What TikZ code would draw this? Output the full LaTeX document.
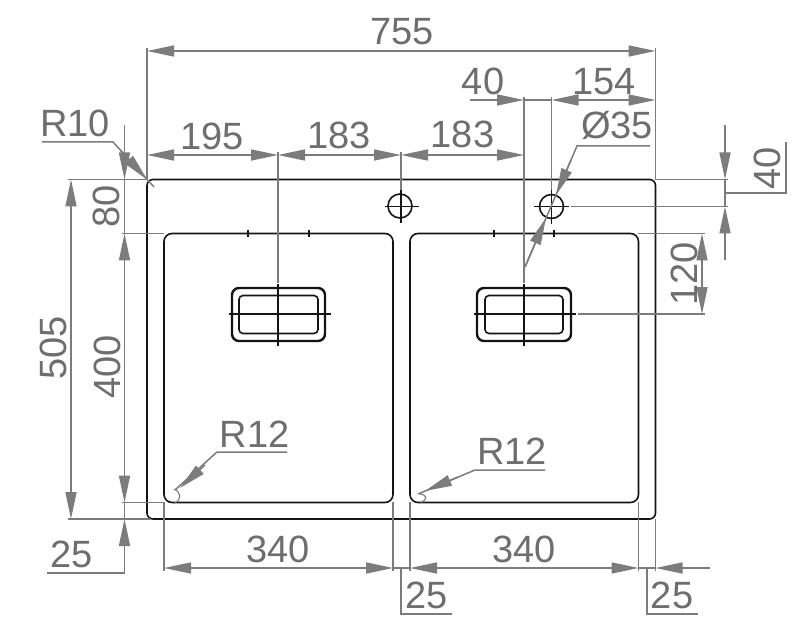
\documentclass[tikz,border=0pt]{standalone}
\usepackage{fontspec}
\setmainfont{Liberation Sans}
\usetikzlibrary{arrows.meta}
\definecolor{dimgray}{HTML}{7C7C7C}
\definecolor{txtgray}{HTML}{6E6E6E}
\definecolor{inkdark}{HTML}{141414}
\tikzset{
  outline/.style={draw=inkdark,line width=1.6pt},
  heavy/.style={draw=inkdark,line width=2.4pt},
  centre/.style={draw=inkdark,line width=1.3pt},
  dim/.style={draw=dimgray,line width=1.5pt},
  thin dim/.style={draw=dimgray,line width=1.1pt},
  ah/.tip={Triangle[length=27pt,width=11pt,fill=dimgray]},
  dimtxt/.style={text=txtgray,font=\fontsize{38}{38}\selectfont,inner sep=0pt,anchor=base},
  vtxt/.style={dimtxt,rotate=90}
}
\begin{document}
\begin{tikzpicture}[x=1pt,y=-1pt]
\useasboundingbox (0,0) rectangle (800,628);
\fill[white] (0,0) rectangle (800,628);

% sink outlines
\draw[outline,rounded corners=6pt] (147,179.5) rectangle (655.5,519);
\draw[outline,rounded corners=8pt] (164,233.5) rectangle (393,502.5);
\draw[outline,rounded corners=8pt] (410,233.5) rectangle (638.5,502.5);

% drains
\draw[heavy,rounded corners=7pt] (232,288) rectangle (325,341);
\draw[outline,rounded corners=4pt] (239,295.5) rectangle (318,333.5);
\draw[heavy,rounded corners=7pt] (477,288) rectangle (571,341);
\draw[outline,rounded corners=4pt] (485,295.5) rectangle (563,333.5);
\draw[centre] (229,314) -- (331,314) (278,284) -- (278,346);
\draw[centre] (474,314) -- (576,314) (524,284) -- (524,346);

% tap holes
\draw[outline] (400,206) circle (12);
\draw[centre] (385,206.5) -- (419,206.5) (401,190) -- (401,223);
\draw[outline] (551.5,206.5) circle (12);
\draw[centre] (534,206.5) -- (569,206.5) (551.5,190) -- (551.5,224);

% ticks on bowl edges
\draw[centre] (248,230) -- (248,237) (278,230) -- (278,237) (309,230) -- (309,237);
\draw[centre] (494,230) -- (494,237) (524,230) -- (524,237) (554,230) -- (554,237);

% vertical extension lines
\draw[dim] (147,48) -- (147,180);
\draw[dim] (655.5,48) -- (655.5,180);
\draw[dim] (278,152) -- (278,283);
\draw[dim] (401,152) -- (401,190);
\draw[dim] (524,97) -- (524,283);
\draw[dim] (551.5,97) -- (551.5,190);
\draw[dim] (164,502) -- (164,571);
\draw[dim] (393,502) -- (393,571);
\draw[dim] (410,502) -- (410,571);
\draw[dim] (638.5,502) -- (638.5,571);
\draw[dim] (655.5,519) -- (655.5,571);

% horizontal extension lines
\draw[dim] (68,179.5) -- (147,179.5);
\draw[dim] (122,233.5) -- (164,233.5);
\draw[dim] (122,502.5) -- (164,502.5);
\draw[dim] (68,519) -- (150,519);
\draw[dim] (655,179.5) -- (728,179.5);
\draw[dim] (571,206.5) -- (728,206.5);
\draw[dim] (638,233.5) -- (705,233.5);
\draw[dim] (578,314) -- (705,314);

% horizontal dimensions
\draw[dim,{ah}-{ah}] (147,51) -- (655.5,51);
\draw[dim,{ah}-{ah}] (147,155) -- (278,155);
\draw[dim,{ah}-{ah}] (278,155) -- (401,155);
\draw[dim,{ah}-{ah}] (401,155) -- (524,155);
\draw[dim,-{ah}] (470,100) -- (524,100);
\draw[dim] (524,100) -- (551.5,100);
\draw[dim,{ah}-{ah}] (551.5,100) -- (655.5,100);
\draw[dim,{ah}-{ah}] (164,568) -- (393,568);
\draw[dim,{ah}-{ah}] (410,568) -- (638.5,568);
\draw[dim] (393,568) -- (410,568) (638.5,568) -- (655.5,568);
\draw[dim,-{ah}] (710,568) -- (655.5,568);

% vertical dimensions
\draw[dim,{ah}-{ah}] (71,179.5) -- (71,519);
\draw[dim,-{ah}] (124.5,125) -- (124.5,179.5);
\draw[dim,{ah}-{ah}] (124.5,233.5) -- (124.5,502.5);
\draw[dim] (124.5,179.5) -- (124.5,233.5) (124.5,502.5) -- (124.5,519);
\draw[dim,-{ah}] (124.5,573) -- (124.5,519);
\draw[dim] (47,573) -- (124.5,573);
\draw[dim,-{ah}] (725,125) -- (725,179.5);
\draw[dim,-{ah}] (725,260) -- (725,206.5);
\draw[dim] (725,179.5) -- (725,206.5);
\draw[dim,{ah}-{ah}] (702,233.5) -- (702,314);

% flags for the small dimensions
\draw[dim] (725,193) -- (786,193) -- (786,142);
\draw[dim] (401,568) -- (401,614) -- (452,614);
\draw[dim] (647,568) -- (647,614) -- (698,614);

% leaders
\draw[dim] (42,142) -- (113,142) -- (154,187);
\draw[dim,-{ah}] (121,151) -- (147,179.5);
\draw[dim] (650,146) -- (577,146) -- (525,267);
\draw[dim,-{ah}] (571,160) -- (556,195);
\draw[dim,-{ah}] (525,267) -- (546,218);
\draw[dim] (287,452) -- (217,452) -- (175,490);
\draw[dim,-{ah}] (205,465) -- (180,488);
\draw[dim] (545,470) -- (475,470) -- (418,494);
\draw[dim,-{ah}] (458,477) -- (425,491);

% radius arcs
\draw[thin dim] (174,489) .. controls (181,492) and (182,499) .. (175,503);
\draw[thin dim] (420,494) .. controls (427,495) and (428,499) .. (421,502.5);

% labels
\node[dimtxt] (d755) at (402,45) {755};
\node[dimtxt] (d195) at (212,150) {195};
\node[dimtxt] (d183a) at (339,149) {183};
\node[dimtxt] (d183b) at (462.5,148) {183};
\node[dimtxt] (d40a) at (483,95) {40};
\node[dimtxt] (d154) at (604,95) {154};
\node[dimtxt] (d35) at (617,139) {Ø35};
\node[dimtxt] (r10) at (75,137) {R10};
\node[dimtxt] (r12a) at (254.5,447) {R12};
\node[dimtxt] (r12b) at (512,464) {R12};
\node[dimtxt] (d340a) at (278,562) {340};
\node[dimtxt] (d340b) at (524,562) {340};
\node[dimtxt] (d25a) at (72,567) {25};
\node[dimtxt] (d25b) at (427,608) {25};
\node[dimtxt] (d25c) at (672,608) {25};
\node[vtxt] (d80) at (119,206) {80};
\node[vtxt] (d505) at (66,348) {505};
\node[vtxt] (d400) at (120,367) {400};
\node[vtxt] (d40b) at (780,168) {40};
\node[vtxt] (d120) at (697,274) {120};
\end{tikzpicture}
\end{document}
